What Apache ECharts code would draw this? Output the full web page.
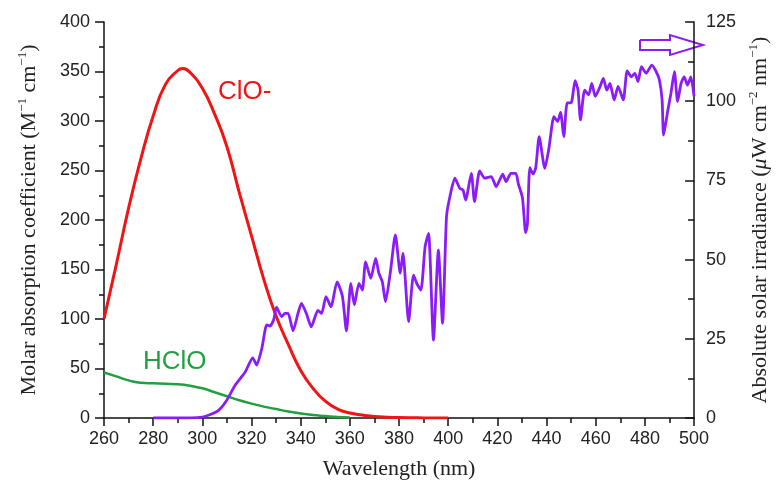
<!DOCTYPE html>
<html>
<head>
<meta charset="utf-8">
<script src="https://cdn.jsdelivr.net/npm/echarts@6/dist/echarts.min.js"></script>
<style>html,body{margin:0;padding:0;background:#fff}#c{width:779px;height:486px}</style>
</head>
<body>
<div id="c"></div>
<script>
// ClO- molar absorption (left axis)
const cloWl  = [260,265,270,275,280,285,290,292,295,300,305,310,315,320,325,330,335,340,345,350,355,360,365,370,375,380,390,400];
const cloVal = [100,155,212,262,305,337,351,353,349,333,307,274,228,184,140,103,74,48,30,17,9,5,3,1.5,0.8,0.4,0.1,0];
// HClO molar absorption (left axis)
const hcloWl  = [260,265,270,275,280,285,290,295,300,305,310,315,320,325,330,335,340,345,350,355,360];
const hcloVal = [46,42,38,35.5,35,34.5,34,32.5,30,26,22,18,14.5,11.5,9,6.5,4.5,3,2,1,0.5];
// Absolute solar irradiance (right axis)
const solarWl = [280,290,300,303,306.7,310,313.4,317.5,320.5,322.1,324.2,326.2,327.5,329,330.2,332.2,333.6,334.9,336.9,338.9,340.3,342.3,344.3,347,348.5,350.3,352.3,354.8,357,358.6,360.4,361.8,363.7,365.1,366.4,368.5,370.5,371.8,373.2,374.5,376.5,378.5,380.5,381.6,383.9,385.9,387.5,388.9,390.6,392,394,396,397.7,399.3,400.7,402.7,404.7,406,407.1,409.4,410.7,412.8,414.8,417.5,419.5,422.2,423.5,425.5,427.5,428.5,430.2,431.5,432.2,433.2,434.5,435.6,437,439.3,441,443,444.5,445.7,447,448.4,450,451.6,452.8,453.8,455.5,457.1,458.4,459.8,461.8,463.1,464.5,465.8,467.5,469.1,471.2,472.8,474.5,475.9,477.2,478.6,480.5,482.8,484.6,485.9,487,487.6,489.3,490.6,492,493.3,494.7,496,497.3,498.7,500];
const solarVal = [0,0,0.3,1,2.5,5.7,10.4,14.6,19,16.7,22,29.4,29,31,35,32,33,33,27.5,33,36.2,33,28.8,34,33,38.3,35.1,43,38.3,27.5,42.5,35.7,42.5,40.4,49.3,44.1,50.4,45.7,43,36.7,46.2,57.8,45.7,52,30.4,45.1,42,40.4,54.1,58.3,24.6,53,29.9,63.5,69.9,75.7,72.5,72,68.8,77.2,68.3,78,75.7,76.2,73,77,74.6,77.2,77.2,74,69.5,58.5,61,79,77,79,88.8,78.8,85.3,95.1,93.6,96.5,88.8,99.5,99.5,106.5,103.5,94.1,103.5,102,105.6,101.5,104.7,107.2,103.5,105.6,100.4,104.7,100.4,109.6,107.7,108.8,106.2,110.9,108.8,111.4,109.3,106.7,100.4,89.3,97,102.5,109.3,99.9,105.6,107.7,105.1,107.7,101.5];
// axis ticks
const xMin = 260, xMax = 500, xStep = 20;
const yLeftMax = 400, yLeftStep = 50;
const yRightMax = 125, yRightStep = 25;

const zip = (a, b) => a.map((v, i) => [v, b[i]]);
const RED = '#f01414', GREEN = '#21a040', PURPLE = '#8b1cfa';
const serif = '"Liberation Serif","Times New Roman",serif';
const sans = '"Liberation Sans",Arial,sans-serif';

const chart = echarts.init(document.getElementById('c'), null, {renderer: 'canvas'});
const axisLine = {show: true, lineStyle: {color: '#111', width: 1.5}};
const nameRich = {
  n: {fontFamily: serif, fontSize: 22, color: '#222', lineHeight: 26},
  s: {fontFamily: serif, fontSize: 13, color: '#222', verticalAlign: 'top', lineHeight: 26, padding: [0, 0, 10, 0]},
  i: {fontFamily: serif, fontSize: 22, color: '#222', fontStyle: 'italic', lineHeight: 26}
};
chart.setOption({
  animation: false,
  grid: {left: 104, right: 79, top: 22, bottom: 68},
  xAxis: {
    type: 'value', min: xMin, max: xMax, interval: xStep,
    name: 'Wavelength (nm)', nameLocation: 'middle', nameGap: 40,
    nameTextStyle: {fontFamily: serif, fontSize: 22, color: '#222'},
    axisLine: axisLine,
    axisTick: {show: true, length: 8, inside: false, lineStyle: {color: '#111', width: 1.5}},
    minorTick: {show: true, splitNumber: 2, length: 5, lineStyle: {color: '#111', width: 1.5}},
    axisLabel: {fontFamily: sans, fontSize: 18, color: '#222', margin: 12},
    splitLine: {show: false}
  },
  yAxis: [{
    type: 'value', min: 0, max: yLeftMax, interval: yLeftStep, position: 'left',
    name: '{n|Molar absorption coefficient (M}{s|−1}{n| cm}{s|−1}{n|)}',
    nameLocation: 'middle', nameRotate: 90, nameGap: 62,
    nameTextStyle: {rich: nameRich},
    axisLine: axisLine,
    axisTick: {show: true, length: 9, lineStyle: {color: '#111', width: 1.5}},
    minorTick: {show: true, splitNumber: 2, length: 5, lineStyle: {color: '#111', width: 1.5}},
    axisLabel: {fontFamily: sans, fontSize: 18, color: '#222', margin: 14},
    splitLine: {show: false}
  }, {
    type: 'value', min: 0, max: yRightMax, interval: yRightStep, position: 'right',
    name: '{n|Absolute solar irradiance (}{i|μ}{n|W cm}{s|−2}{n| nm}{s|−1}{n|)}',
    nameLocation: 'middle', nameRotate: 90, nameGap: 50,
    nameTextStyle: {rich: nameRich},
    axisLine: axisLine,
    axisTick: {show: true, inside: true, length: 9, lineStyle: {color: '#111', width: 1.5}},
    minorTick: {show: true, splitNumber: 2, length: 6, lineStyle: {color: '#111', width: 1.5}},
    axisLabel: {fontFamily: sans, fontSize: 18, color: '#222', margin: 12},
    splitLine: {show: false}
  }],
  series: [{
    type: 'line', name: 'ClO-', yAxisIndex: 0, data: zip(cloWl, cloVal),
    smooth: true, showSymbol: false, lineStyle: {color: RED, width: 3}, z: 3
  }, {
    type: 'line', name: 'HClO', yAxisIndex: 0, data: zip(hcloWl, hcloVal),
    smooth: true, showSymbol: false, lineStyle: {color: GREEN, width: 2.5}, z: 2
  }, {
    type: 'line', name: 'Solar', yAxisIndex: 1, data: zip(solarWl, solarVal),
    smooth: 0.2, showSymbol: false, lineStyle: {color: PURPLE, width: 2.8}, z: 4
  }],
  graphic: [
    {type: 'text', left: 218, top: 79, style: {text: 'ClO-', fill: RED, font: '26px ' + sans}},
    {type: 'text', left: 143, top: 349, style: {text: 'HClO', fill: GREEN, font: '26px ' + sans}},
    {type: 'polyline', shape: {points: [[640, 40], [670, 40], [670, 35], [703, 45], [670, 55], [670, 50], [640, 50], [640, 40]]},
     style: {stroke: PURPLE, fill: null, lineWidth: 2}}
  ]
});
</script>
</body>
</html>
